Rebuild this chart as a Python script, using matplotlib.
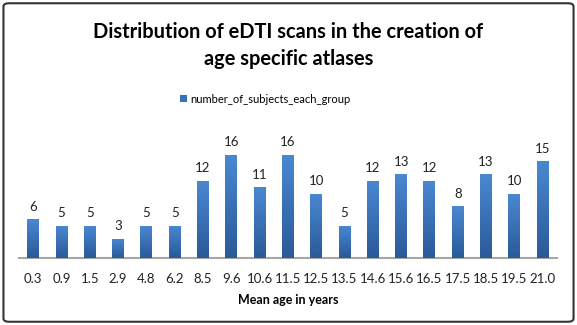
import matplotlib.pyplot as plt
import numpy as np
from matplotlib.patches import FancyBboxPatch

plt.rcParams['font.family'] = ['Lato', 'DejaVu Sans']

# data
ages = ['0.3', '0.9', '1.5', '2.9', '4.8', '6.2', '8.5', '9.6', '10.6', '11.5',
        '12.5', '13.5', '14.6', '15.6', '16.5', '17.5', '18.5', '19.5', '21.0']
subjects = [6, 5, 5, 3, 5, 5, 12, 16, 11, 16, 10, 5, 12, 13, 12, 8, 13, 10, 15]

fig = plt.figure(figsize=(5.77, 3.25), dpi=100)
ax = fig.add_axes([0.033, 0.206, 0.932, 0.357])

x = np.arange(len(ages))
bars = ax.bar(x, subjects, width=0.42, color='#3A72BA', label='number_of_subjects_each_group')

# vertical gradient on each bar, Excel style
grad = np.linspace(0, 1, 100).reshape(-1, 1)
cmap = plt.matplotlib.colors.LinearSegmentedColormap.from_list('b', ['#2A5A98', '#4A88D2'])
for b in bars:
    bx, by = b.get_x(), b.get_y()
    w, h = b.get_width(), b.get_height()
    im = ax.imshow(grad, extent=[bx, bx + w, by, by + h], origin='lower',
                   cmap=cmap, aspect='auto', zorder=3)
    im.set_clip_path(b)
    b.set_zorder(2)

for xi, v in zip(x, subjects):
    ax.text(xi, v + 1.0, str(v), ha='center', va='bottom', fontsize=9.5, color='#222222')

ax.set_xlim(-0.5, len(ages) - 0.5)
ax.set_ylim(0, 18)
ax.set_xticks(x)
ax.set_xticklabels(ages, fontsize=9.5, color='#222222')
ax.tick_params(axis='x', length=0, pad=11)
ax.set_yticks([])
for s in ['top', 'right', 'left']:
    ax.spines[s].set_visible(False)
ax.spines['bottom'].set_color('#A6A6A6')
ax.spines['bottom'].set_linewidth(1.5)
ax.set_xlabel('Mean age in years', fontsize=9, fontweight='bold', labelpad=6)

fig.text(0.5, 0.86, 'Distribution of eDTI scans in the creation of\nage specific atlases',
         ha='center', va='center', fontsize=14.4, fontweight='bold', linespacing=1.4)

leg = fig.legend(handles=[bars], labels=['number_of_subjects_each_group'],
                 loc='center', bbox_to_anchor=(0.46, 0.695), frameon=False,
                 fontsize=8, handlelength=0.6, handleheight=0.6, handletextpad=0.3)

border = FancyBboxPatch((0.006, 0.01), 0.988, 0.98, boxstyle='round,pad=0,rounding_size=0.01',
                        transform=fig.transFigure, fill=False, edgecolor='#333333', linewidth=1.5)
fig.patches.append(border)

fig.savefig('out.png', dpi=100)
